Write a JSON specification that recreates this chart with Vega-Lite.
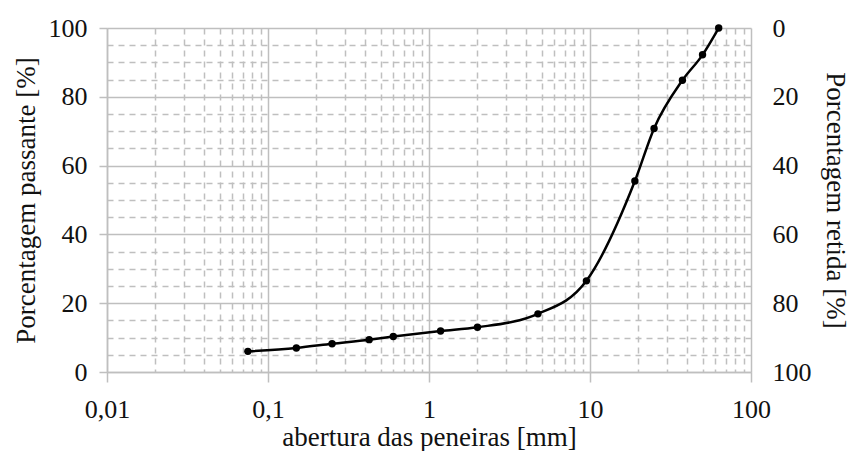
{
  "$schema": "https://vega.github.io/schema/vega-lite/v6.json",
  "width": 644,
  "height": 344,
  "autosize": {"type": "none"},
  "padding": {"left": 107, "top": 28, "right": 101, "bottom": 79},
  "background": "white",
  "config": {
    "view": {"stroke": null},
    "font": "Liberation Serif",
    "axis": {
      "labelFont": "Liberation Serif",
      "titleFont": "Liberation Serif",
      "labelFontSize": 26,
      "titleFontSize": 27,
      "titleFontWeight": "normal",
      "labelColor": "#111111",
      "titleColor": "#111111",
      "domainColor": "#bfbfbf",
      "tickColor": "#bfbfbf",
      "gridColor": "#bfbfbf",
      "domainWidth": 1.5,
      "tickWidth": 1.5,
      "gridWidth": 1.5
    }
  },
  "data": {
    "values": [
      {"abertura": 0.075, "passante": 6},
      {"abertura": 0.15, "passante": 7},
      {"abertura": 0.25, "passante": 8.2},
      {"abertura": 0.425, "passante": 9.4},
      {"abertura": 0.6, "passante": 10.3},
      {"abertura": 1.18, "passante": 11.9},
      {"abertura": 2.0, "passante": 13},
      {"abertura": 4.75, "passante": 16.9},
      {"abertura": 9.5, "passante": 26.5},
      {"abertura": 19, "passante": 55.5},
      {"abertura": 25, "passante": 70.8},
      {"abertura": 37.5, "passante": 84.8},
      {"abertura": 50, "passante": 92.2},
      {"abertura": 63, "passante": 100}
    ]
  },
  "layer": [
    {
      "mark": {"type": "line", "interpolate": "monotone", "color": "#000000", "strokeWidth": 2.5},
      "encoding": {
        "x": {
          "field": "abertura",
          "type": "quantitative",
          "scale": {"type": "log", "domain": [0.01, 100], "nice": false},
          "axis": {
            "title": "abertura das peneiras [mm]",
            "values": [0.01,0.02,0.03,0.04,0.05,0.06,0.07,0.08,0.09,0.1,0.2,0.3,0.4,0.5,0.6,0.7,0.8,0.9,1,2,3,4,5,6,7,8,9,10,20,30,40,50,60,70,80,90,100],
            "grid": true,
            "gridDash": {"condition": {"test": "abs(log(datum.value)/LN10 - round(log(datum.value)/LN10)) < 0.001", "value": []}, "value": [6, 5]},
            "tickOpacity": {"condition": {"test": "abs(log(datum.value)/LN10 - round(log(datum.value)/LN10)) < 0.001", "value": 1}, "value": 0},
            "tickSize": 10,
            "labelExpr": "abs(log(datum.value)/LN10 - round(log(datum.value)/LN10)) < 0.001 ? replace(format(datum.value, '~g'), '.', ',') : ''",
            "labelPadding": 14,
            "labelFlush": false,
            "labelOverlap": false,
            "titlePadding": 2
          }
        },
        "y": {
          "field": "passante",
          "type": "quantitative",
          "scale": {"domain": [0, 100], "nice": false},
          "axis": {
            "title": "Porcentagem passante [%]",
            "values": [0,5,10,15,20,25,30,35,40,45,50,55,60,65,70,75,80,85,90,95,100],
            "grid": true,
            "gridDash": {"condition": {"test": "datum.value % 20 == 0", "value": []}, "value": [6, 5]},
            "tickOpacity": {"condition": {"test": "datum.value % 20 == 0", "value": 1}, "value": 0},
            "tickSize": 8,
            "labelExpr": "datum.value % 20 == 0 ? datum.label : ''",
            "labelPadding": 12,
            "labelFlush": false,
            "labelOverlap": false,
            "titlePadding": 8
          }
        }
      }
    },
    {
      "mark": {"type": "point", "filled": true, "color": "#000000", "size": 55, "opacity": 1},
      "encoding": {
        "x": {"field": "abertura", "type": "quantitative"},
        "y": {
          "field": "passante",
          "type": "quantitative",
          "axis": {
            "orient": "right",
            "title": "Porcentagem retida [%]",
            "values": [0,20,40,60,80,100],
            "grid": false,
            "ticks": false,
            "domain": false,
            "labelExpr": "format(100 - datum.value, 'd')",
            "labelPadding": 21,
            "labelFlush": false,
            "labelOverlap": false,
            "titlePadding": 9
          }
        }
      }
    }
  ],
  "resolve": {"axis": {"y": "independent"}}
}
